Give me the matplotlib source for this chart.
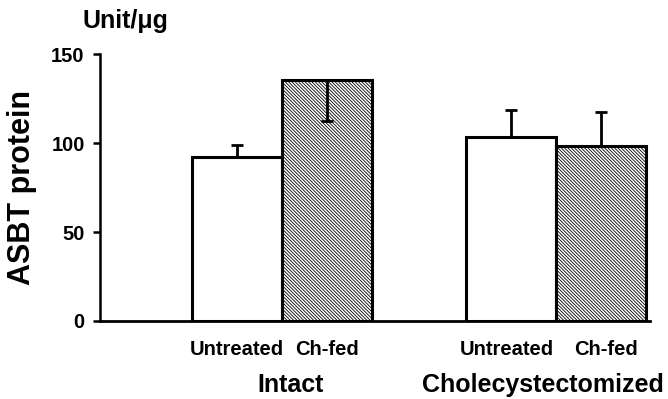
import matplotlib.pyplot as plt
import matplotlib as mpl

plt.rcParams['font.family'] = ['Liberation Sans', 'DejaVu Sans']
plt.rcParams['font.weight'] = 'bold'
mpl.rcParams['hatch.linewidth'] = 0.6

# === data ===
groups = ['Intact', 'Cholecystectomized']
bar_labels = ['Untreated', 'Ch-fed', 'Untreated', 'Ch-fed']
values = [92, 135.5, 103.5, 98.5]
err_up = [7, 0, 15, 19]
err_down = [0, 23, 0, 0]
positions = [0, 1, 3.05, 4.05]
hatched = [False, True, False, True]

fig = plt.figure(figsize=(6.68, 3.99), dpi=100)
ax = fig.add_axes([0.1497, 0.1955, 0.8233, 0.669])

for x, v, h in zip(positions, values, hatched):
    ax.bar(x, v, width=1.0, color='white', edgecolor='black', linewidth=2.2,
           hatch='\\' * 10 if h else None, zorder=2)

ax.errorbar(positions, values, yerr=[err_down, err_up], fmt='none',
            ecolor='black', elinewidth=2, capsize=4, capthick=2, zorder=3)

ax.set_ylim(0, 150)
ax.set_xlim(-1.52, 4.59)
ax.set_yticks([0, 50, 100, 150])
ax.tick_params(axis='y', labelsize=14.5, width=1.8, length=5, direction='out', pad=6)
ax.set_xticks([0, 1, 3.0, 4.1])
ax.set_xticklabels(bar_labels, fontsize=14.5, fontweight='bold')
ax.tick_params(axis='x', length=0, pad=14)

ax.spines['top'].set_visible(False)
ax.spines['right'].set_visible(False)
ax.spines['left'].set_linewidth(1.8)
ax.spines['bottom'].set_linewidth(2)

ax.set_ylabel('ASBT protein', fontsize=22, fontweight='bold', labelpad=10)

# group labels
for pos, name in zip([0.6, 3.4], groups):
    ax.text(pos, -0.24, name, transform=ax.get_xaxis_transform(),
            ha='center', va='center', fontsize=18, fontweight='bold')
ax.text(-0.031, 1.125, 'Unit/\u03bcg', transform=ax.transAxes,
        ha='left', va='center', fontsize=18, fontweight='bold')

fig.savefig('out.png', dpi=100)
